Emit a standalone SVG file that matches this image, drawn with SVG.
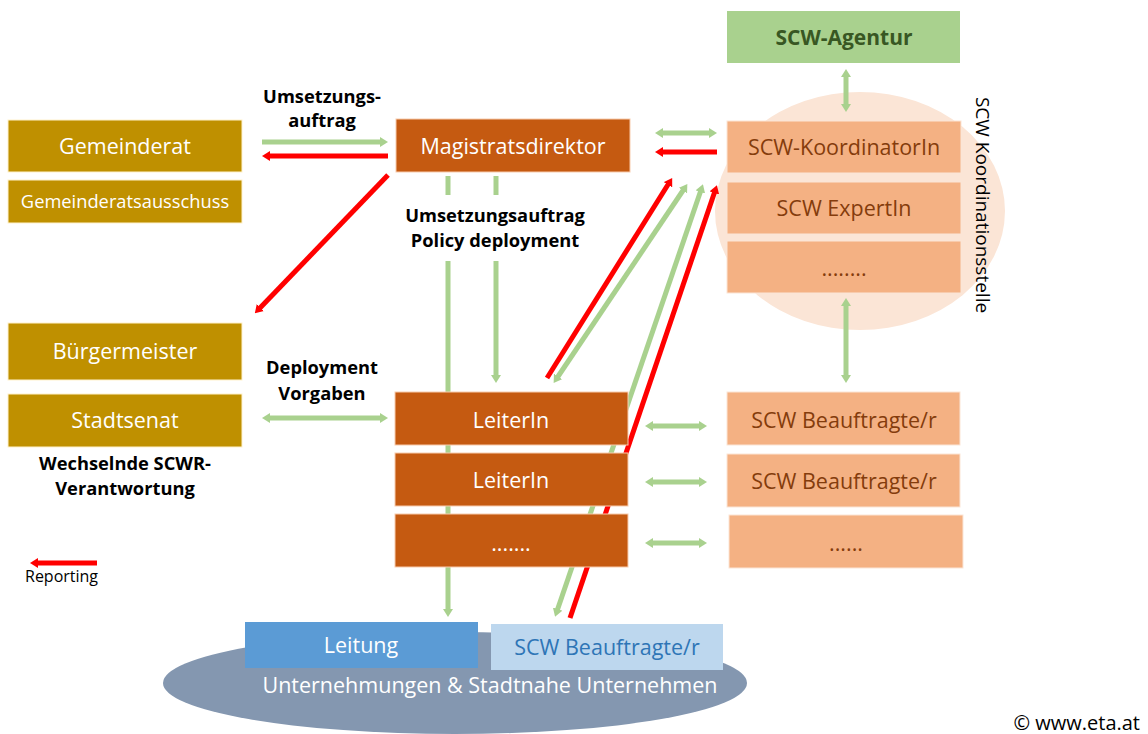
<svg xmlns="http://www.w3.org/2000/svg" width="1148" height="734" viewBox="0 0 1148 734">
  <style>
    text { font-family: "Open Sans", "Noto Sans", "Liberation Sans", sans-serif; }
    .gold { fill: #BF9000; stroke: #FFF2CC; stroke-width: 1; }
    .rust { fill: #C55A11; stroke: #F8CBAD; stroke-width: 1; }
    .peach { fill: #F4B183; stroke: #FBE5D6; stroke-width: 1; }
    .wt { fill: #FFFFFF; font-size: 21.5px; text-anchor: middle; }
    .wt.small { font-size: 18.3px; }
    .bt { fill: #843C0C; font-size: 21.5px; text-anchor: middle; }
    .lbl { fill: #000000; font-size: 18.3px; font-weight: bold; text-anchor: middle; }
    .g { stroke: #A9D18E; stroke-width: 5; fill: none; }
    .r { stroke: #FF0000; stroke-width: 5; fill: none; }
    .gh { marker-end: url(#hg); }
    .gd { marker-start: url(#hg); marker-end: url(#hg); }
    .rh { marker-end: url(#hr); }
  </style>
  <defs>
    <marker id="hg" viewBox="0 0 8 10" refX="2" refY="5" markerWidth="8" markerHeight="10" markerUnits="userSpaceOnUse" orient="auto-start-reverse">
      <path d="M0,0 L8,5 L0,10 z" fill="#A9D18E"/>
    </marker>
    <marker id="hr" viewBox="0 0 8 10" refX="2" refY="5" markerWidth="8" markerHeight="10" markerUnits="userSpaceOnUse" orient="auto-start-reverse">
      <path d="M0,0 L8,5 L0,10 z" fill="#FF0000"/>
    </marker>
  </defs>

  <!-- background areas -->
  <g id="koordinationsstelle">
    <ellipse cx="860" cy="211" rx="145" ry="119" fill="#FBE5D6"/>
    <text transform="translate(976,205) rotate(90)" font-size="19" fill="#000" text-anchor="middle">SCW Koordinationsstelle</text>
  </g>
  <g id="unternehmen">
    <ellipse cx="455" cy="683" rx="292" ry="51" fill="#8497B0"/>
    <text x="490" y="693" class="wt">Unternehmungen &amp; Stadtnahe Unternehmen</text>
  </g>

  <!-- connectors -->
  <g id="connectors">
    <!-- Gemeinderat / Magistratsdirektor -->
    <line class="g gh" x1="262" y1="142" x2="382" y2="142"/>
    <line class="r rh" x1="388" y1="156" x2="268" y2="156"/>
    <line class="r rh" x1="388" y1="175" x2="259" y2="309"/>
    <!-- Magistratsdirektor / SCW-KoordinatorIn -->
    <line class="g gd" x1="661" y1="133" x2="711" y2="133"/>
    <line class="r rh" x1="717" y1="152" x2="661" y2="152"/>
    <!-- policy deployment downwards -->
    <line class="g" x1="448" y1="176" x2="448" y2="195"/>
    <line class="g" x1="496" y1="176" x2="496" y2="195"/>
    <line class="g gh" x1="448" y1="261" x2="448" y2="611"/>
    <line class="g gh" x1="496" y1="261" x2="496" y2="377"/>
    <!-- LeiterIn / KoordinatorIn diagonals -->
    <line class="r rh" x1="547" y1="378" x2="669" y2="183"/>
    <line class="g gd" x1="684" y1="189" x2="557" y2="378"/>
    <line class="g gd" x1="701" y1="190" x2="557" y2="611"/>
    <line class="r rh" x1="570" y1="618" x2="715" y2="191"/>
    <!-- SCW-Agentur / Koordinationsstelle -->
    <line class="g gd" x1="846" y1="75" x2="846" y2="106"/>
    <line class="g gd" x1="846" y1="304" x2="846" y2="377"/>
    <!-- Stadtsenat / LeiterIn -->
    <line class="g gd" x1="268" y1="418" x2="382" y2="418"/>
    <!-- LeiterIn / SCW Beauftragte -->
    <line class="g gd" x1="651" y1="426" x2="701" y2="426"/>
    <line class="g gd" x1="651" y1="482" x2="701" y2="482"/>
    <line class="g gd" x1="651" y1="543" x2="701" y2="543"/>
    <!-- legend -->
    <line class="r rh" x1="97" y1="563" x2="36" y2="563"/>
  </g>

  <!-- political side -->
  <g id="gemeinderat">
    <rect class="gold" x="8" y="120" width="234" height="52"/>
    <text x="125" y="154" class="wt">Gemeinderat</text>
  </g>
  <g id="gemeinderatsausschuss">
    <rect class="gold" x="8" y="180" width="234" height="43"/>
    <text x="125" y="208" class="wt small">Gemeinderatsausschuss</text>
  </g>
  <g id="buergermeister">
    <rect class="gold" x="8" y="323" width="234" height="57"/>
    <text x="125" y="359" class="wt">Bürgermeister</text>
  </g>
  <g id="stadtsenat">
    <rect class="gold" x="8" y="394" width="234" height="53"/>
    <text x="125" y="428" class="wt">Stadtsenat</text>
  </g>

  <!-- administration -->
  <g id="magistratsdirektor">
    <rect class="rust" x="396" y="119" width="234" height="53"/>
    <text x="513" y="154" class="wt">Magistratsdirektor</text>
  </g>
  <g id="leiterin-1">
    <rect class="rust" x="395" y="392" width="233" height="53"/>
    <text x="511" y="428" class="wt">LeiterIn</text>
  </g>
  <g id="leiterin-2">
    <rect class="rust" x="395" y="453" width="233" height="53"/>
    <text x="511" y="488" class="wt">LeiterIn</text>
  </g>
  <g id="leiterin-more">
    <rect class="rust" x="395" y="514" width="233" height="53"/>
    <text x="511" y="551" class="wt">.......</text>
  </g>

  <!-- SCW structure -->
  <g id="scw-agentur">
    <rect x="727" y="11" width="233" height="52" fill="#A9D18E"/>
    <text x="844" y="45" font-size="21" font-weight="bold" fill="#385723" text-anchor="middle">SCW-Agentur</text>
  </g>
  <g id="scw-koordinatorin">
    <rect class="peach" x="727" y="121" width="234" height="52"/>
    <text x="844" y="155" class="bt">SCW-KoordinatorIn</text>
  </g>
  <g id="scw-expertin">
    <rect class="peach" x="727" y="182" width="234" height="52"/>
    <text x="844" y="216" class="bt">SCW ExpertIn</text>
  </g>
  <g id="scw-more">
    <rect class="peach" x="727" y="241" width="234" height="52"/>
    <text x="844" y="276" class="bt">........</text>
  </g>
  <g id="scw-beauftragte-1">
    <rect class="peach" x="727" y="392" width="233" height="53"/>
    <text x="844" y="428" class="bt">SCW Beauftragte/r</text>
  </g>
  <g id="scw-beauftragte-2">
    <rect class="peach" x="727" y="454" width="233" height="53"/>
    <text x="844" y="489" class="bt">SCW Beauftragte/r</text>
  </g>
  <g id="scw-beauftragte-more">
    <rect class="peach" x="729" y="515" width="234" height="53"/>
    <text x="846" y="551" class="bt">......</text>
  </g>

  <!-- enterprises -->
  <g id="leitung">
    <rect x="245" y="622" width="233" height="46" fill="#5B9BD5"/>
    <text x="361" y="653" class="wt">Leitung</text>
  </g>
  <g id="scw-beauftragte-unternehmen">
    <rect x="491" y="624" width="232" height="46" fill="#BDD7EE"/>
    <text x="607" y="655" font-size="21.5" fill="#2E75B6" text-anchor="middle">SCW Beauftragte/r</text>
  </g>

  <!-- labels -->
  <g id="labels">
    <text x="322" y="103" class="lbl">Umsetzungs-</text>
    <text x="322" y="127" class="lbl">auftrag</text>
    <text x="495" y="222" class="lbl">Umsetzungsauftrag</text>
    <text x="495" y="247" class="lbl">Policy deployment</text>
    <text x="322" y="374" class="lbl">Deployment</text>
    <text x="322" y="400" class="lbl">Vorgaben</text>
    <text x="125" y="470" class="lbl">Wechselnde SCWR-</text>
    <text x="125" y="495" class="lbl">Verantwortung</text>
    <text x="25" y="582" font-size="16" fill="#000">Reporting</text>
    <text x="1140" y="730" font-size="20" fill="#000" text-anchor="end">© www.eta.at</text>
  </g>
</svg>
